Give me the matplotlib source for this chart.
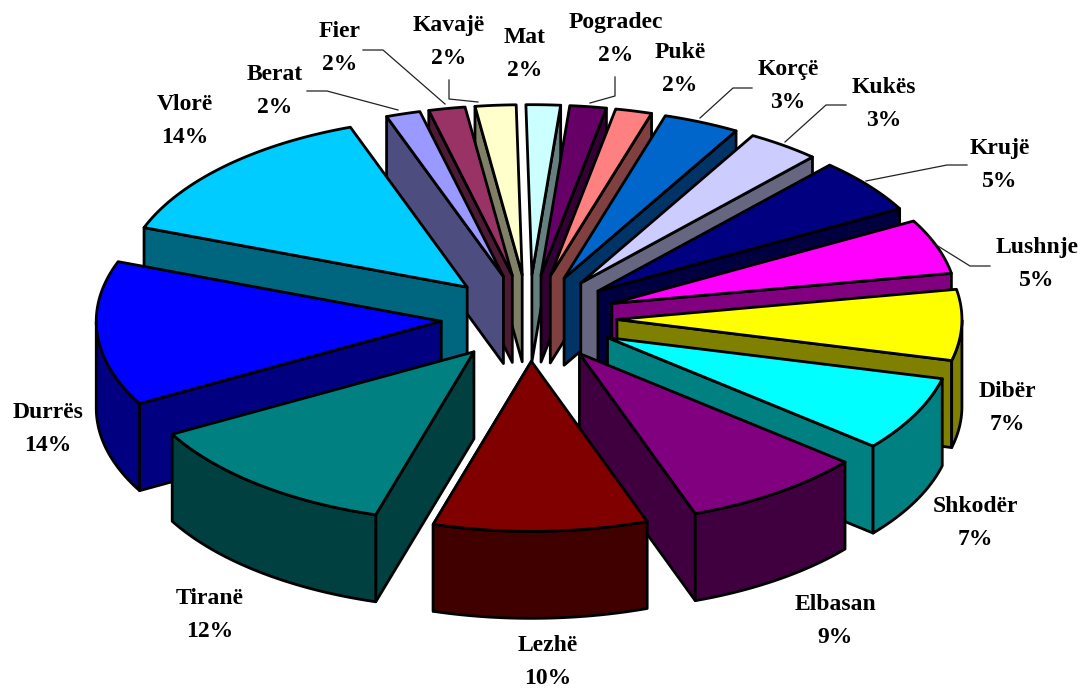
import numpy as np
import matplotlib
matplotlib.use("Agg")
import matplotlib.pyplot as plt
from matplotlib.colors import to_rgb

# clockwise from 12 o'clock
cities = ["Mat", "Pogradec", "Pukë", "Korçë", "Kukës", "Krujë", "Lushnje", "Dibër", "Shkodër",
          "Elbasan", "Lezhë", "Tiranë", "Durrës", "Vlorë", "Berat", "Fier", "Kavajë"]
# printed labels, and the slice sizes
printed = [2, 2, 2, 3, 3, 5, 5, 7, 7, 9, 10, 12, 14, 14, 2, 2, 2]
shares = [1.6, 1.7, 1.7, 3.55, 3.4, 5.2, 5.2, 6.7, 7.1, 8.5, 10.0, 12.3, 13.7, 13.75, 1.6, 1.7, 1.9]
colors = ["#CCFFFF", "#660066", "#FF8080", "#0066CC", "#CCCCFF", "#000080", "#FF00FF", "#FFFF00", "#00FFFF",
          "#800080", "#800000", "#008080", "#0000FF", "#00CCFF", "#9999FF", "#993366", "#FFFFCC"]

# layout, in pixels
label_pos = [(525, 54), (616, 39), (680, 69), (788, 86), (884, 104), (1000, 165), (1037, 264), (1007, 408),
             (975, 523), (835, 621), (548, 662), (210, 615), (48, 429), (185, 121), (275, 91), (340, 48), (449, 42)]
leaders = [[(363, 50), (383, 50), (445, 104)],
           [(307, 91), (327, 91), (398, 110)],
           [(449, 80), (449, 99), (478, 102)],
           [(615, 77), (615, 96), (590, 103)],
           [(752, 88), (733, 88), (700, 118)],
           [(846, 105), (826, 105), (785, 142)],
           [(967, 165), (947, 165), (866, 181)],
           [(990, 266), (970, 266), (933, 243)]]

CX, CY = 529, 318
RX, RY = 345, 170
EXPLODE = 0.255
DEPTH = 87
START = -1.0


def project(angle, r):
    a = np.radians(angle)
    return np.sin(a) * r * RX, -np.cos(a) * r * RY


def draw_slice(ax, a1, a2, color):
    mid = (a1 + a2) / 2
    ex, ey = project(mid, EXPLODE)
    tx, ty = CX + ex, CY + ey
    angles = np.linspace(a1, a2, 80)
    xs, ys = project(angles, 1)
    xs, ys = xs + tx, ys + ty
    dark = tuple(c * 0.5 for c in to_rgb(color))
    style = dict(facecolor=dark, edgecolor="black", linewidth=2.0, joinstyle="round")

    # radial wall, only the one facing the viewer
    if np.sin(np.radians(mid)) < 0:
        wx, wy = xs[0], ys[0]
    else:
        wx, wy = xs[-1], ys[-1]
    ax.fill([tx, wx, wx, tx], [ty, wy, wy + DEPTH, ty + DEPTH], **style)

    # outer wall
    front = np.cos(np.radians(angles)) <= 0
    if front.sum() > 1:
        fx, fy = xs[front], ys[front]
        ax.fill(np.r_[fx, fx[::-1]], np.r_[fy, fy[::-1] + DEPTH], **style)

    ax.fill(np.r_[tx, xs], np.r_[ty, ys], facecolor=color, edgecolor="black", linewidth=2.0, joinstyle="round")


fig = plt.figure(figsize=(10.81, 6.89), dpi=100)
ax = fig.add_axes([0, 0, 1, 1])
ax.set_xlim(0, 1081)
ax.set_ylim(689, 0)
ax.axis("off")

edges = START + np.r_[0, np.cumsum(shares)] / sum(shares) * 360
mids = (edges[:-1] + edges[1:]) / 2
# back slices first
for i in np.argsort(-np.cos(np.radians(mids))):
    draw_slice(ax, edges[i], edges[i + 1], colors[i])

for pts in leaders:
    ax.plot(*zip(*pts), color="#222222", linewidth=0.9)

for name, pct, (x, y) in zip(cities, printed, label_pos):
    ax.text(x, y, f"{name}\n{pct}%", ha="center", va="center", family="Liberation Serif",
            weight="bold", fontsize=17, linespacing=1.7, color="black")

fig.savefig("out.png", dpi=100)
